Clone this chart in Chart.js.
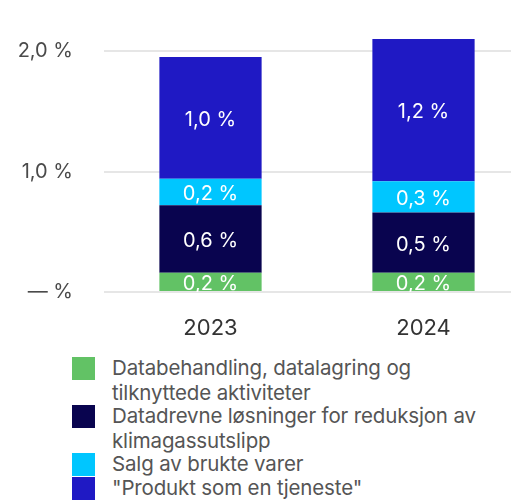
<!DOCTYPE html>
<html>
<head>
<meta charset="utf-8">
<script src="https://cdn.jsdelivr.net/npm/chart.js@4.4.1/dist/chart.umd.min.js"></script>
<style>
  html, body { margin: 0; padding: 0; background: #fff; }
  body { width: 511px; height: 503px; overflow: hidden; position: relative; font-family: Inter, "Noto Sans", sans-serif; }
  #wrap { position: absolute; left: 0; top: 0; width: 530px; height: 342px; }
  #legend { position: absolute; left: 72px; top: 357px; color: #555; font-size: 20.5px; line-height: 24.6px; }
  .item { display: flex; align-items: flex-start; }
  .box { width: 23px; height: 23px; flex: none; margin-right: 17px; }
  .txt { letter-spacing: -0.15px; margin-top: -1px; }
</style>
</head>
<body>
<div id="wrap"><canvas id="c" width="530" height="342"></canvas></div>
<div id="legend"></div>
<script>
// ==============================
// data
// ==============================
const years = ["2023", "2024"];
const dataProcessing = [0.16, 0.16];
const dataDriven = [0.56, 0.50];
const usedGoods = [0.22, 0.26];
const productAsService = [1.01, 1.18];
const yTickValues = [0, 1, 2];
const yTickLabels = ["— %", "1,0 %", "2,0 %"];
const Y_MAX = 2.15;

const seriesNames = [
  "Databehandling, datalagring og<br>tilknyttede aktiviteter",
  "Datadrevne løsninger for reduksjon av<br>klimagassutslipp",
  "Salg av brukte varer",
  "\"Produkt som en tjeneste\"",
];
const colors = ["#62c265", "#09044f", "#00c6ff", "#1f19c4"];

// ==============================
// labels in segments
// ==============================
const segLabels = {
  id: "segLabels",
  afterDatasetsDraw(chart) {
    const ctx = chart.ctx;
    const a = chart.chartArea;
    ctx.save();
    ctx.beginPath();
    ctx.rect(a.left, a.top, a.right - a.left, a.bottom - a.top);
    ctx.clip();
    ctx.fillStyle = "#fff";
    ctx.font = "20px Inter, 'Noto Sans', sans-serif";
    ctx.textAlign = "center";
    ctx.textBaseline = "middle";
    chart.data.datasets.forEach((ds, i) => {
      chart.getDatasetMeta(i).data.forEach((el, j) => {
        const v = ds.data[j];
        const text = v.toFixed(1).replace(".", ",") + " %";
        ctx.fillText(text, el.x, (el.y + el.base) / 2 + 2);
      });
    });
    ctx.restore();
  },
};

const datasets = [dataProcessing, dataDriven, usedGoods, productAsService].map((d, i) => ({
  label: seriesNames[i],
  data: d,
  backgroundColor: colors[i],
  borderWidth: 0,
  categoryPercentage: 1,
  barPercentage: 0.48,
}));

const chart = new Chart(document.getElementById("c"), {
  type: "bar",
  data: { labels: years, datasets },
  options: {
    responsive: false,
    animation: false,
    layout: { padding: { top: 33, left: 0, right: 0, bottom: 0 } },
    plugins: {
      legend: { display: false },
      tooltip: { enabled: false },
    },
    scales: {
      x: {
        stacked: true,
        grid: { display: false },
        border: { display: false },
        ticks: {
          color: "#333",
          font: { family: "Inter, 'Noto Sans', sans-serif", size: 22 },
          padding: 15,
        },
        afterFit(s) { s.height = 50; },
      },
      y: {
        stacked: true,
        min: 0,
        max: Y_MAX,
        bounds: "data",
        border: { display: false },
        grid: { color: "#e6e6e6", lineWidth: 2, drawTicks: false },
        afterBuildTicks(s) { s.ticks = yTickValues.map((v) => ({ value: v })); },
        ticks: {
          color: "#4a4a4a",
          font: { family: "Inter, 'Noto Sans', sans-serif", size: 20 },
          padding: 31,
          callback: (v) => yTickLabels[yTickValues.indexOf(v)],
        },
        afterFit(s) {
          s.width = 104;
          s.paddingTop = 0;
          s.paddingBottom = 0;
        },
      },
    },
  },
  plugins: [segLabels],
});

// ==============================
// legend
// ==============================
const legend = document.getElementById("legend");
seriesNames.forEach((name, i) => {
  const row = document.createElement("div");
  row.className = "item";
  row.innerHTML = `<div class="box" style="background:${colors[i]}"></div><div class="txt">${name}</div>`;
  legend.appendChild(row);
});
</script>
</body>
</html>
